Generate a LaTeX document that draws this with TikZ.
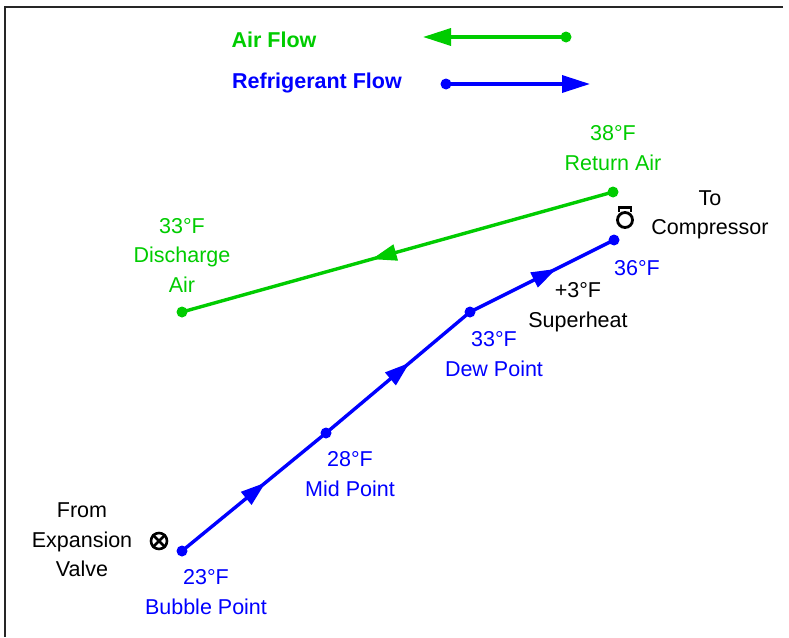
\documentclass[tikz,border=0pt]{standalone}
\usepackage{fontspec}
\setmainfont{Liberation Sans}
\usetikzlibrary{arrows.meta,decorations.markings,calc}
\definecolor{airgreen}{RGB}{0,204,0}
\definecolor{refblue}{RGB}{0,0,255}
\tikzset{
  lbl/.style={align=center,inner sep=0pt,font=\fontsize{21.5}{29.5}\selectfont},
  head/.style={lbl,font=\fontsize{21.5}{29.5}\selectfont\bfseries},
  dot/.style={circle,fill,inner sep=0pt,minimum size=11pt},
  flow/.style={line width=3.4pt},
  tip/.style={-{Triangle[length=28pt,width=17pt]}},
  midtip/.style={postaction={decorate},decoration={markings,
    mark=at position #1 with {\arrow{Triangle[length=25pt,width=16pt]}}}},
}
\begin{document}
\begin{tikzpicture}[x=1pt,y=-1pt]
\useasboundingbox (0,0) rectangle (789,637);
% frame
\draw[line width=1.8pt,black!85] (783,7) -- (5,7) -- (5,637);

% legend
\node[head,text=airgreen] (airlbl) at (274,40) {Air Flow};
\node[head,text=refblue] (reflbl) at (317,83) {Refrigerant Flow};
\node[dot,airgreen] (airdot) at (566,37) {};
\coordinate (airend) at (423,37);
\draw[flow,airgreen,tip] (airdot.center) -- (airend);
\node[dot,refblue] (refdot) at (446,84) {};
\coordinate (refend) at (590,84);
\draw[flow,refblue,tip] (refdot.center) -- (refend);

% air side
\node[dot,airgreen] (ret) at (613,192) {};
\node[dot,airgreen] (dis) at (182,312) {};
\draw[flow,airgreen,midtip=0.56] (ret.center) -- (dis.center);

% refrigerant side
\node[dot,refblue] (bub) at (182,551) {};
\node[dot,refblue] (mid) at (326,433) {};
\node[dot,refblue] (dew) at (470,312) {};
\node[dot,refblue] (sup) at (614,240) {};
\draw[flow,refblue,midtip=0.58] (bub.center) -- (mid.center);
\draw[flow,refblue,midtip=0.58] (mid.center) -- (dew.center);
\draw[flow,refblue,midtip=0.6] (dew.center) -- (sup.center);

% valve and compressor symbols
\node[circle,draw,line width=2.6pt,minimum size=16pt,inner sep=0pt] (valve) at (159,541) {};
\draw[line width=2.6pt] (valve.north east) -- (valve.south west)
                        (valve.north west) -- (valve.south east);
\node[circle,draw,line width=2.8pt,minimum size=15pt,inner sep=0pt] (comp) at (625,220) {};
\draw[line width=2.6pt] ($(comp.center)+(-6,-8)$) -- ($(comp.center)+(-6,-12.5)$)
  -- ($(comp.center)+(6,-12.5)$) -- ($(comp.center)+(6,-8)$);

% labels
\node[lbl,text=airgreen] (retlbl) at (613,148) {38°F\\Return Air};
\node[lbl,text=airgreen] (dislbl) at (182,255) {33°F\\Discharge\\Air};
\node[lbl] (complbl) at (710,215) {To\\Compressor};
\node[lbl,text=refblue] (suplbl) at (637,268) {36°F};
\node[lbl] (shlbl) at (578,307) {+3°F\\Superheat};
\node[lbl,text=refblue] (dewlbl) at (494,354) {33°F\\Dew Point};
\node[lbl,text=refblue] (midlbl) at (350,474) {28°F\\Mid Point};
\node[lbl,text=refblue] (bublbl) at (206,592) {23°F\\Bubble Point};
\node[lbl] (fromlbl) at (82,540) {From\\Expansion\\Valve};
\end{tikzpicture}
\end{document}
